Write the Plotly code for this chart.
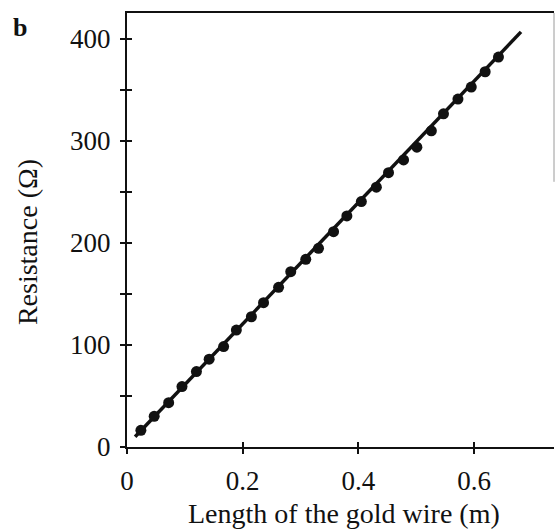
import plotly.graph_objects as go

# ---- data ----
length_m = [0.024, 0.047, 0.072, 0.095, 0.120, 0.142, 0.167, 0.189, 0.215, 0.236,
            0.262, 0.283, 0.309, 0.331, 0.357, 0.380, 0.405, 0.431, 0.452, 0.478,
            0.501, 0.526, 0.547, 0.572, 0.595, 0.619, 0.642]
resistance_ohm = [16.4, 30.1, 43.5, 59.2, 73.9, 86.1, 98.5, 114.6, 127.7, 141.5,
                  156.5, 171.9, 184.0, 194.8, 211.1, 226.5, 240.6, 254.7, 269.0, 281.5,
                  294.0, 310.0, 326.7, 341.1, 352.9, 367.9, 382.3]

fit_length = [0.014, 0.681]
fit_resistance = [10, 407]

x_tickvals = [0, 0.2, 0.4, 0.6]
x_ticktext = ["0", "0.2", "0.4", "0.6"]
y_tickvals = [0, 50, 100, 150, 200, 250, 300, 350, 400]
y_ticktext = ["0", "", "100", "", "200", "", "300", "", "400"]

x_range = [0, 0.738]
y_range = [0, 425.5]

FONT = "Liberation Serif"
INK = "#111111"

fig = go.Figure()
fig.add_trace(go.Scatter(x=fit_length, y=fit_resistance, mode="lines",
                         line=dict(color=INK, width=3.5),
                         xaxis="x", yaxis="y", showlegend=False, hoverinfo="skip"))
fig.add_trace(go.Scatter(x=length_m, y=resistance_ohm, mode="markers",
                         marker=dict(color=INK, size=11),
                         xaxis="x2", yaxis="y2", showlegend=False))

axis_common = dict(showgrid=False, zeroline=False, tickcolor=INK, tickwidth=1.5,
                   automargin=False)

fig.update_layout(
    width=556, height=529,
    margin=dict(l=127, r=2, t=13, b=82),
    paper_bgcolor="white", plot_bgcolor="white",
    font=dict(family=FONT, color=INK, size=27),
    xaxis=dict(range=x_range, tickvals=x_tickvals, ticktext=x_ticktext,
               ticks="outside", ticklen=5, showline=True, linecolor=INK,
               linewidth=2, mirror=True, ticklabelstandoff=4,
               tickfont=dict(family=FONT, size=27, color=INK), **axis_common),
    yaxis=dict(range=y_range, tickvals=y_tickvals, ticktext=y_ticktext,
               ticks="outside", ticklen=5, showline=True, linecolor=INK,
               linewidth=2, ticklabelstandoff=4,
               tickfont=dict(family=FONT, size=27, color=INK), **axis_common),
    xaxis2=dict(range=x_range, tickvals=x_tickvals, overlaying="x", anchor="y2",
                side="bottom", ticks="inside", ticklen=5, showticklabels=False,
                showline=False, **axis_common),
    yaxis2=dict(range=y_range, tickvals=y_tickvals, overlaying="y", anchor="x2",
                side="left", ticks="inside", ticklen=5, showticklabels=False,
                showline=False, **axis_common),
    shapes=[dict(type="line", xref="paper", yref="y", x0=1, x1=1, y0=260, y1=425.5,
                 line=dict(color="#9a9a9a", width=1))],
    annotations=[
        dict(text="Length of the gold wire (m)", xref="paper", yref="paper",
             x=0.508, y=-0.153, xanchor="center", yanchor="middle", showarrow=False,
             font=dict(family=FONT, size=28, color=INK)),
        dict(text="Resistance (Ω)", xref="paper", yref="paper",
             x=-0.233, y=0.471, xanchor="center", yanchor="middle", showarrow=False,
             textangle=-90, font=dict(family=FONT, size=28, color=INK)),
        dict(text="<b>b</b>", xref="paper", yref="paper",
             x=-0.251, y=0.966, xanchor="center", yanchor="middle", showarrow=False,
             font=dict(family=FONT, size=26, color=INK)),
    ],
)

fig.write_html(
    "out.html",
    config={"displayModeBar": False},
    post_script="document.body.style.margin='0';document.body.style.padding='0';"
                "document.body.style.overflow='hidden';",
)
